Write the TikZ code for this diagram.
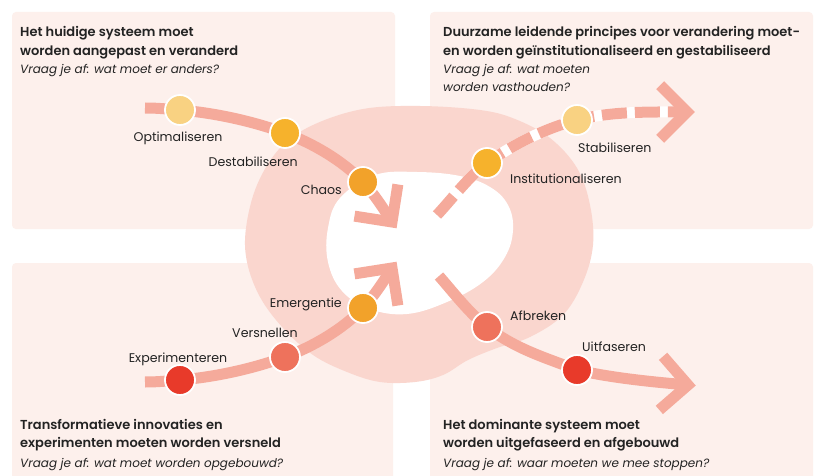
\documentclass[tikz,border=0pt]{standalone}
\usepackage{fontspec}
\setmainfont{Poppins}[BoldFont={Poppins SemiBold}]
\usetikzlibrary{calc}
\definecolor{panel}{RGB}{253,240,236}
\definecolor{blob}{RGB}{250,214,206}
\definecolor{flow}{RGB}{245,170,155}
\definecolor{cA}{RGB}{249,210,130}
\definecolor{cB}{RGB}{246,178,44}
\definecolor{cC}{RGB}{242,162,42}
\definecolor{cD}{RGB}{238,114,92}
\definecolor{cE}{RGB}{232,58,42}
\definecolor{txt}{RGB}{35,35,35}
\pgfdeclarelayer{back}
\pgfdeclarelayer{flows}
\pgfsetlayers{back,flows,main}
\begin{document}
\begin{tikzpicture}[x=1pt,y=-1pt,
  panelbox/.style={fill=panel, rounded corners=4pt},
  flowline/.style={draw=flow, line width=11pt, line cap=butt},
  chev/.style={draw=flow, line width=11pt, line cap=butt, line join=miter},
  dot/.style={circle, draw=white, line width=1.8pt, minimum size=30pt, inner sep=0pt},
  lbl/.style={font=\fontsize{12.6}{14}\selectfont, text=txt, inner sep=0pt},
  ttl/.style={font=\fontsize{13}{16}\selectfont\bfseries, text=txt, inner sep=0pt, anchor=base west},
  qst/.style={font=\fontsize{12}{14}\selectfont\itshape, text=txt, inner sep=0pt, anchor=base west},
]
\useasboundingbox (0,0) rectangle (819,476);
\begin{pgfonlayer}{back}
\fill[white] (0,0) rectangle (819,476);
\fill[panelbox] (12,12) rectangle (395,229);
\fill[panelbox] (430,12) rectangle (813,229);
\fill[panelbox] (12,263) rectangle (393,490);
\fill[panelbox] (430,263) rectangle (813,490);
\fill[blob] plot[smooth cycle, tension=0.6] coordinates {(420,106) (480,110) (515,119) (550,138) (577,168) (590,205) (593,245) (583,282) (563,315) (530,337) (497,348) (468,360) (443,375) (415,382) (380,382) (347,372) (313,355) (283,328) (260,297) (247,262) (246,228) (257,185) (280,148) (313,125) (363,109)};
\fill[white] plot[smooth cycle, tension=0.65] coordinates {(417,172) (460,176) (490,187) (508,205) (513,230) (505,257) (483,282) (447,302) (407,314) (370,309) (342,291) (328,262) (328,228) (340,198) (375,175)};
\end{pgfonlayer}

% stations
\node[dot, fill=cA] (opt) at (180,110) {};
\node[dot, fill=cB] (des) at (285,133) {};
\node[dot, fill=cC] (cha) at (363,182) {};
\node[dot, fill=cE] (exp) at (180,380) {};
\node[dot, fill=cD] (ver) at (285,357) {};
\node[dot, fill=cC] (eme) at (363,308) {};
\node[dot, fill=cB] (ins) at (487,163) {};
\node[dot, fill=cA] (sta) at (577,120) {};
\node[dot, fill=cD] (afb) at (487,327) {};
\node[dot, fill=cE] (uit) at (577,370) {};

\coordinate (sTL) at (145,108);
\coordinate (tTL) at (392,222);
\coordinate (sBL) at (145,382);
\coordinate (tBL) at (392,268);
\coordinate (sTR) at (437,215);
\coordinate (tTR) at (687,112);
\coordinate (sBR) at (439,276);
\coordinate (tBR) at (688,385);

\begin{pgfonlayer}{flows}
\draw[flowline] (sTL) .. controls +(15,0) and +(-12,-0.7) .. (opt.center)
  .. controls +(35,3) and +(-33,-12) .. (des.center)
  .. controls +(27,10) and +(-21,-22) .. (cha.center)
  .. controls +(12,13) and +(-7,-11) .. (tTL);
\draw[chev] ($(tTL)+(188.9:38)$) -- (tTL) -- ($(tTL)+(278.9:38)$);

\draw[flowline] (sBL) .. controls +(15,0) and +(-12,0.7) .. (exp.center)
  .. controls +(35,-3) and +(-33,12) .. (ver.center)
  .. controls +(27,-10) and +(-21,22) .. (eme.center)
  .. controls +(12,-13) and +(-7,11) .. (tBL);
\draw[chev] ($(tBL)+(171.1:38)$) -- (tBL) -- ($(tBL)+(81.1:38)$);

\draw[flowline, dash pattern=on 25pt off 8pt, preaction={draw=white, line width=11pt, solid}]
  (sTR) .. controls +(15,-16) and +(-17,12) .. (ins.center)
  .. controls +(30,-21) and +(-30,8) .. (sta.center)
  .. controls +(35,-9) and +(-35,0) .. (tTR);
\draw[chev] ($(tTR)+(225:38)$) -- (tTR) -- ($(tTR)+(135:38)$);

\draw[flowline] (sBR) .. controls +(14,16) and +(-17,-13) .. (afb.center)
  .. controls +(30,23) and +(-30,-12) .. (uit.center)
  .. controls +(35,8) and +(-35,-3) .. (tBR);
\draw[chev] ($(tBR)+(229:38)$) -- (tBR) -- ($(tBR)+(139:38)$);
\end{pgfonlayer}

% labels
\node[lbl, anchor=base] (lopt) at (178,142) {Optimaliseren};
\node[lbl, anchor=base east] (ldes) at (298,166) {Destabiliseren};
\node[lbl, anchor=base east] (lcha) at (342,194) {Chaos};
\node[lbl, anchor=base west] (lins) at (510,183) {Institutionaliseren};
\node[lbl, anchor=base west] (lsta) at (578,153) {Stabiliseren};
\node[lbl, anchor=base east] (leme) at (342,307) {Emergentie};
\node[lbl, anchor=base east] (lver) at (298,337) {Versnellen};
\node[lbl, anchor=base] (lexp) at (178,362) {Experimenteren};
\node[lbl, anchor=base west] (lafb) at (510,320) {Afbreken};
\node[lbl, anchor=base west] (luit) at (582,351) {Uitfaseren};

% titles
\node[ttl] (t1a) at (20,37) {Het huidige systeem moet};
\node[ttl] (t1b) at (20,55.5) {worden aangepast en veranderd};
\node[qst] (q1) at (20,74) {Vraag je af: wat moet er anders?};
\node[ttl] (t2a) at (443,37) {Duurzame leidende principes voor verandering moet-};
\node[ttl] (t2b) at (443,55.5) {en worden geïnstitutionaliseerd en gestabiliseerd};
\node[qst] (q2a) at (443,74) {Vraag je af: wat moeten};
\node[qst] (q2b) at (443,92) {worden vasthouden?};
\node[ttl] (t3a) at (20,429) {Transformatieve innovaties en};
\node[ttl] (t3b) at (20,447.5) {experimenten moeten worden versneld};
\node[qst] (q3) at (20,467) {Vraag je af: wat moet worden opgebouwd?};
\node[ttl] (t4a) at (443,429) {Het dominante systeem moet};
\node[ttl] (t4b) at (443,447.5) {worden uitgefaseerd en afgebouwd};
\node[qst] (q4) at (443,467) {Vraag je af: waar moeten we mee stoppen?};
\end{tikzpicture}
\end{document}
